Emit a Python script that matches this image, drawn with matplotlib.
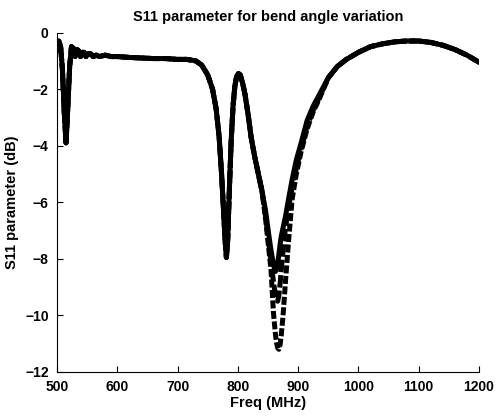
import matplotlib
matplotlib.use("Agg")
import matplotlib.pyplot as plt

plt.rcParams['font.family'] = ['Liberation Sans', 'DejaVu Sans']
plt.rcParams['font.weight'] = 'bold'

# frequency grid (MHz)
freq = [500, 503, 506, 509, 512, 515, 518, 521, 524, 527, 530, 533, 536, 539, 542,
        545, 548, 552, 556, 560, 565, 570, 580, 590, 600, 620, 640, 660, 680, 700,
        715, 730, 740, 750, 758, 764, 769, 773, 776, 779, 781, 783, 786, 789, 792,
        795, 798, 801, 804, 808, 812, 817, 822, 828, 834, 840, 846, 851, 855, 859,
        862, 864, 866, 868, 870, 872, 875, 879, 884, 890, 897, 905, 915, 925, 935,
        950, 965, 980, 1000, 1020, 1040, 1060, 1080, 1100, 1120, 1140, 1160, 1180, 1200]

# common part below 846 MHz
s11_common_lo = [-0.6, -0.3, -0.5, -1.3, -2.8, -3.9, -2.6, -1.2, -0.5, -0.55, -0.85, -0.6,
                 -0.65, -0.85, -0.7, -0.7, -0.85, -0.75, -0.75, -0.85, -0.8, -0.85, -0.8,
                 -0.85, -0.85, -0.88, -0.9, -0.92, -0.92, -0.95, -0.95, -1.0, -1.15, -1.5,
                 -2.0, -2.7, -3.7, -5.0, -6.2, -7.4, -7.95, -7.4, -5.5, -3.8, -2.6, -1.9,
                 -1.55, -1.45, -1.5, -1.8, -2.2, -2.9, -3.7, -4.4, -5.0, -5.6]
# common part above 935 MHz
s11_common_hi = [-1.6, -1.2, -0.95, -0.7, -0.5, -0.4, -0.33, -0.3, -0.3, -0.35, -0.45,
                 -0.6, -0.8, -1.05]

# 846 ... 935 MHz for each bend angle
dip_a = [-6.3, -7.1, -7.7, -8.2, -8.45, -8.4, -8.15, -7.85, -7.5, -7.2, -6.9, -6.5, -5.9,
         -5.2, -4.5, -3.9, -3.1, -2.6, -2.2]
dip_b = [-6.5, -7.4, -8.1, -8.8, -9.25, -9.45, -9.5, -9.3, -8.9, -8.4, -7.7, -6.9, -6.2,
         -5.5, -4.8, -4.1, -3.3, -2.75, -2.3]
dip_c = [-6.6, -7.6, -8.4, -9.9, -10.6, -10.95, -11.15, -11.2, -11.05, -10.7, -10.0, -8.8,
         -7.4, -5.9, -5.0, -4.2, -3.4, -2.8, -2.35]

s11_a = s11_common_lo + dip_a + s11_common_hi
s11_b = s11_common_lo + dip_b + s11_common_hi
s11_c = s11_common_lo + dip_c + s11_common_hi

fig = plt.figure(figsize=(5.0, 4.17), dpi=100)
ax = fig.add_axes([0.114, 0.108, 0.844, 0.814])

ax.plot(freq, s11_c, color='black', linestyle=(0, (1.6, 0.5)), linewidth=3.6)
ax.plot(freq, s11_b, color='black', linestyle=(0, (2.5, 0.6)), linewidth=3.6)
ax.plot(freq, s11_a, color='black', linestyle='-', linewidth=3.6)

ax.set_xlim(500, 1200)
ax.set_ylim(-12, 0)
ax.set_xticks([500, 600, 700, 800, 900, 1000, 1100, 1200])
ax.set_yticks([-12, -10, -8, -6, -4, -2, 0])
ax.spines['top'].set_visible(False)
ax.spines['right'].set_visible(False)
ax.tick_params(direction='in', length=4, labelsize=10)
ax.tick_params(axis='x', pad=6)
ax.tick_params(axis='y', pad=6)
for lab in ax.get_xticklabels() + ax.get_yticklabels():
    lab.set_fontweight('bold')

ax.set_title('S11 parameter for bend angle variation', fontsize=10.5, fontweight='bold', pad=8)
ax.set_xlabel('Freq (MHz)', fontsize=10.5, fontweight='bold', labelpad=1)
ax.set_ylabel('S11 parameter (dB)', fontsize=10.5, fontweight='bold', labelpad=4)

fig.savefig('out.png', dpi=100)
